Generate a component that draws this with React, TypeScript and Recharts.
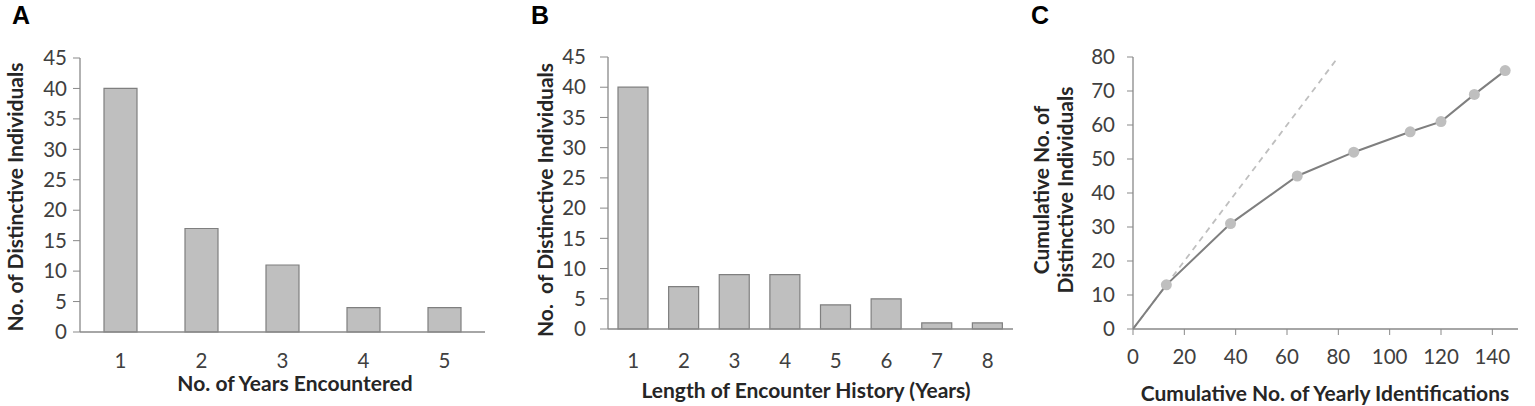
import React from 'react';
import { BarChart, Bar, LineChart, Line, XAxis, YAxis } from 'recharts';

// panel A: years encountered
const yearsEncountered = ['1', '2', '3', '4', '5'];
const individualsByYears = [40, 17, 11, 4, 4];

// panel B: length of encounter history
const historyLength = ['1', '2', '3', '4', '5', '6', '7', '8'];
const individualsByHistory = [40, 7, 9, 9, 4, 5, 1, 1];

// panel C: discovery curve
const cumulativeIds = [0, 13, 38, 64, 86, 108, 120, 133, 145];
const cumulativeIndividuals = [0, 13, 31, 45, 52, 58, 61, 69, 76];
const refLineX = [0, 79];

const barTicks = [0, 5, 10, 15, 20, 25, 30, 35, 40, 45];
const cTicksY = [0, 10, 20, 30, 40, 50, 60, 70, 80];
const cTicksX = [0, 20, 40, 60, 80, 100, 120, 140];

const dataA = yearsEncountered.map((k, i) => ({ name: k, value: individualsByYears[i] }));
const dataB = historyLength.map((k, i) => ({ name: k, value: individualsByHistory[i] }));
const dataC = cumulativeIds.map((x, i) => ({ x, y: cumulativeIndividuals[i] }));
const dataRef = refLineX.map(x => ({ x, y: x }));

const FONT = 'Lato, "Open Sans", sans-serif';
const AXIS = '#898989';
const tickStyle = { fill: '#404040', fontSize: 20.5, fontFamily: FONT };
const BAR_FILL = '#BFBFBF';
const BAR_STROKE = '#7F7F7F';

const titleStyle: React.CSSProperties = {
    position: 'absolute',
    fontFamily: FONT,
    fontWeight: 700,
    fontSize: 21,
    color: '#262626',
    whiteSpace: 'nowrap',
    textAlign: 'center',
};

function Title({ x, y, rotate, lh = 16, children }: { x: number; y: number; rotate?: boolean; lh?: number; children: React.ReactNode }) {
    return (
        <div style={{ ...titleStyle, lineHeight: `${lh}px`, left: x, top: y, transform: `translate(-50%, -50%)${rotate ? ' rotate(-90deg)' : ''}` }}>
            {children}
        </div>
    );
}

function PanelLetter({ x, children }: { x: number; children: React.ReactNode }) {
    return (
        <div style={{ position: 'absolute', left: x, top: 1, fontFamily: 'Liberation Sans, Arial, sans-serif', fontWeight: 700, fontSize: 25, color: '#000' }}>
            {children}
        </div>
    );
}

export default function App() {
    return (
        <div style={{ position: 'absolute', left: 0, top: 0, width: 1535, height: 406, background: '#fff', overflow: 'hidden' }}>
            {/* A */}
            <div style={{ position: 'absolute', left: 0, top: 0 }}>
                <BarChart width={500} height={406} data={dataA} margin={{ top: 58, right: 15, bottom: 44, left: 40 }}>
                    <XAxis dataKey="name" height={30} tickLine={false} tickSize={0} tickMargin={21}
                        axisLine={{ stroke: AXIS, strokeWidth: 1.3 }} tick={tickStyle} />
                    <YAxis width={40} domain={[0, 45]} ticks={barTicks} interval={0} tickSize={7} tickMargin={6}
                        axisLine={{ stroke: AXIS, strokeWidth: 1.3 }} tickLine={{ stroke: AXIS }} tick={tickStyle} />
                    <Bar dataKey="value" barSize={33} fill={BAR_FILL} stroke={BAR_STROKE} strokeWidth={1.2} isAnimationActive={false} />
                </BarChart>
            </div>

            {/* B */}
            <div style={{ position: 'absolute', left: 500, top: 0 }}>
                <BarChart width={520} height={406} data={dataB} margin={{ top: 57, right: 7, bottom: 47, left: 58 }}>
                    <XAxis dataKey="name" height={30} tickLine={false} tickSize={0} tickMargin={24}
                        axisLine={{ stroke: AXIS, strokeWidth: 1.3 }} tick={tickStyle} />
                    <YAxis width={50} domain={[0, 45]} ticks={barTicks} interval={0} tickSize={8} tickMargin={14}
                        axisLine={{ stroke: AXIS, strokeWidth: 1.3 }} tickLine={{ stroke: AXIS }} tick={tickStyle} />
                    <Bar dataKey="value" barSize={30} fill={BAR_FILL} stroke={BAR_STROKE} strokeWidth={1.2} isAnimationActive={false} />
                </BarChart>
            </div>

            {/* C */}
            <div style={{ position: 'absolute', left: 1000, top: 0 }}>
                <LineChart width={535} height={406} margin={{ top: 57, right: 17, bottom: 47, left: 83 }}>
                    <XAxis type="number" dataKey="x" domain={[0, 150]} ticks={cTicksX} interval={0} allowDataOverflow
                        height={30} tickSize={6} tickMargin={14}
                        axisLine={{ stroke: AXIS, strokeWidth: 1.3 }} tickLine={{ stroke: AXIS }} tick={tickStyle} />
                    <YAxis type="number" dataKey="y" domain={[0, 80]} ticks={cTicksY} interval={0} width={50}
                        tickSize={6} tickMargin={12}
                        axisLine={{ stroke: AXIS, strokeWidth: 1.3 }} tickLine={{ stroke: AXIS }} tick={tickStyle} />
                    <Line data={dataRef} dataKey="y" type="linear" stroke="#BFBFBF" strokeWidth={1.8}
                        strokeDasharray="6 5" dot={false} activeDot={false} isAnimationActive={false} />
                    <Line data={dataC} dataKey="y" type="linear" stroke="#7F7F7F" strokeWidth={2}
                        activeDot={false} isAnimationActive={false}
                        dot={(p: any) => p.index === 0
                            ? <g key={`d${p.index}`} />
                            : <circle key={`d${p.index}`} cx={p.cx} cy={p.cy} r={5.5} fill="#BFBFBF" stroke="none" />} />
                </LineChart>
            </div>

            <PanelLetter x={12}>A</PanelLetter>
            <PanelLetter x={531}>B</PanelLetter>
            <PanelLetter x={1031}>C</PanelLetter>

            <Title x={15} y={197} rotate>No. of Distinctive Individuals</Title>
            <Title x={295} y={383}>No. of Years Encountered</Title>

            <Title x={545} y={200} rotate>No.&nbsp; of Distinctive Individuals</Title>
            <Title x={806} y={390}>Length of Encounter History (Years)</Title>

            <Title x={1053} y={190} rotate lh={24}>Cumulative No. of<br />Distinctive Individuals</Title>
            <Title x={1325} y={393}>Cumulative No. of Yearly Identifications</Title>
        </div>
    );
}
